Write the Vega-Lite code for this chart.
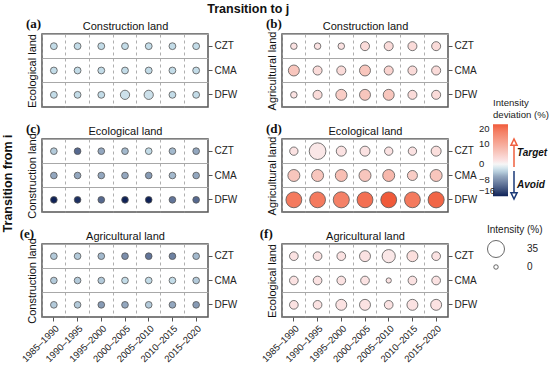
{
  "$schema": "https://vega.github.io/schema/vega-lite/v6.json",
  "padding": {"left": 2, "right": 0, "top": 2, "bottom": 2},
  "background": "white",
  "config": {
    "font": "Liberation Sans",
    "view": {"stroke": "#555", "strokeWidth": 1.5},
    "axis": {"labelFontSize": 10, "titleFontSize": 11, "titleFontWeight": "normal", "labelColor": "#222", "titleColor": "#111", "tickColor": "#555", "tickSize": 4},
    "legend": {"titleFontSize": 10, "titleFontWeight": "normal", "titleColor": "#222", "labelFontSize": 10, "labelColor": "#222", "titleLimit": 90}
  },
  "data": {"values": [
    {"p":"a","t":"1985–1990","r":"CZT","s":3.5,"d":-3},{"p":"a","t":"1990–1995","r":"CZT","s":3.5,"d":-3},{"p":"a","t":"1995–2000","r":"CZT","s":3.5,"d":-3},{"p":"a","t":"2000–2005","r":"CZT","s":3.5,"d":-3},{"p":"a","t":"2005–2010","r":"CZT","s":3.5,"d":-3},{"p":"a","t":"2010–2015","r":"CZT","s":3.5,"d":-3},{"p":"a","t":"2015–2020","r":"CZT","s":3.5,"d":-3},
    {"p":"a","t":"1985–1990","r":"CMA","s":3.5,"d":-3},{"p":"a","t":"1990–1995","r":"CMA","s":3.5,"d":-3},{"p":"a","t":"1995–2000","r":"CMA","s":3.5,"d":-3},{"p":"a","t":"2000–2005","r":"CMA","s":3.5,"d":-3},{"p":"a","t":"2005–2010","r":"CMA","s":3.5,"d":-3},{"p":"a","t":"2010–2015","r":"CMA","s":3.5,"d":-3},{"p":"a","t":"2015–2020","r":"CMA","s":3.5,"d":-3},
    {"p":"a","t":"1985–1990","r":"DFW","s":3.5,"d":-3},{"p":"a","t":"1990–1995","r":"DFW","s":3.5,"d":-3},{"p":"a","t":"1995–2000","r":"DFW","s":3.5,"d":-3},{"p":"a","t":"2000–2005","r":"DFW","s":8.5,"d":-2.5},{"p":"a","t":"2005–2010","r":"DFW","s":8.5,"d":-2.5},{"p":"a","t":"2010–2015","r":"DFW","s":3.5,"d":-3},{"p":"a","t":"2015–2020","r":"DFW","s":3.5,"d":-3},

    {"p":"b","t":"1985–1990","r":"CZT","s":3,"d":2},{"p":"b","t":"1990–1995","r":"CZT","s":3,"d":2},{"p":"b","t":"1995–2000","r":"CZT","s":3,"d":2},{"p":"b","t":"2000–2005","r":"CZT","s":7.9,"d":3},{"p":"b","t":"2005–2010","r":"CZT","s":7.9,"d":3},{"p":"b","t":"2010–2015","r":"CZT","s":7.9,"d":3},{"p":"b","t":"2015–2020","r":"CZT","s":7.9,"d":3},
    {"p":"b","t":"1985–1990","r":"CMA","s":13,"d":6},{"p":"b","t":"1990–1995","r":"CMA","s":8,"d":3},{"p":"b","t":"1995–2000","r":"CMA","s":8,"d":3},{"p":"b","t":"2000–2005","r":"CMA","s":13,"d":6},{"p":"b","t":"2005–2010","r":"CMA","s":8,"d":4},{"p":"b","t":"2010–2015","r":"CMA","s":8,"d":3},{"p":"b","t":"2015–2020","r":"CMA","s":8,"d":3},
    {"p":"b","t":"1985–1990","r":"DFW","s":3,"d":2},{"p":"b","t":"1990–1995","r":"DFW","s":8,"d":3},{"p":"b","t":"1995–2000","r":"DFW","s":13,"d":5},{"p":"b","t":"2000–2005","r":"DFW","s":13,"d":6},{"p":"b","t":"2005–2010","r":"DFW","s":13,"d":6},{"p":"b","t":"2010–2015","r":"DFW","s":8,"d":3},{"p":"b","t":"2015–2020","r":"DFW","s":8,"d":3},

    {"p":"c","t":"1985–1990","r":"CZT","s":3.2,"d":-4},{"p":"c","t":"1990–1995","r":"CZT","s":3.2,"d":-11},{"p":"c","t":"1995–2000","r":"CZT","s":3.2,"d":-6},{"p":"c","t":"2000–2005","r":"CZT","s":3.2,"d":-5},{"p":"c","t":"2005–2010","r":"CZT","s":3.2,"d":-3},{"p":"c","t":"2010–2015","r":"CZT","s":3.2,"d":-5},{"p":"c","t":"2015–2020","r":"CZT","s":3.2,"d":-6},
    {"p":"c","t":"1985–1990","r":"CMA","s":3.2,"d":-6},{"p":"c","t":"1990–1995","r":"CMA","s":3.2,"d":-6},{"p":"c","t":"1995–2000","r":"CMA","s":3.2,"d":-6},{"p":"c","t":"2000–2005","r":"CMA","s":3.2,"d":-6},{"p":"c","t":"2005–2010","r":"CMA","s":3.2,"d":-7},{"p":"c","t":"2010–2015","r":"CMA","s":3.2,"d":-5},{"p":"c","t":"2015–2020","r":"CMA","s":3.2,"d":-6},
    {"p":"c","t":"1985–1990","r":"DFW","s":3.2,"d":-16},{"p":"c","t":"1990–1995","r":"DFW","s":3.2,"d":-15},{"p":"c","t":"1995–2000","r":"DFW","s":3.2,"d":-11},{"p":"c","t":"2000–2005","r":"DFW","s":3.2,"d":-16},{"p":"c","t":"2005–2010","r":"DFW","s":3.2,"d":-16},{"p":"c","t":"2010–2015","r":"DFW","s":3.2,"d":-10},{"p":"c","t":"2015–2020","r":"DFW","s":3.2,"d":-11},

    {"p":"d","t":"1985–1990","r":"CZT","s":6.4,"d":2},{"p":"d","t":"1990–1995","r":"CZT","s":33.5,"d":1.5},{"p":"d","t":"1995–2000","r":"CZT","s":10.4,"d":2},{"p":"d","t":"2000–2005","r":"CZT","s":10.4,"d":2},{"p":"d","t":"2005–2010","r":"CZT","s":6.4,"d":2},{"p":"d","t":"2010–2015","r":"CZT","s":6.4,"d":2},{"p":"d","t":"2015–2020","r":"CZT","s":10.4,"d":2.5},
    {"p":"d","t":"1985–1990","r":"CMA","s":16,"d":6},{"p":"d","t":"1990–1995","r":"CMA","s":16,"d":6},{"p":"d","t":"1995–2000","r":"CMA","s":16,"d":7},{"p":"d","t":"2000–2005","r":"CMA","s":16,"d":6},{"p":"d","t":"2005–2010","r":"CMA","s":16,"d":8},{"p":"d","t":"2010–2015","r":"CMA","s":10.4,"d":5},{"p":"d","t":"2015–2020","r":"CMA","s":16,"d":6},
    {"p":"d","t":"1985–1990","r":"DFW","s":30,"d":17},{"p":"d","t":"1990–1995","r":"DFW","s":30,"d":17},{"p":"d","t":"1995–2000","r":"DFW","s":31,"d":16},{"p":"d","t":"2000–2005","r":"DFW","s":30,"d":18},{"p":"d","t":"2005–2010","r":"DFW","s":30,"d":20},{"p":"d","t":"2010–2015","r":"DFW","s":30,"d":17},{"p":"d","t":"2015–2020","r":"DFW","s":31,"d":19},

    {"p":"e","t":"1985–1990","r":"CZT","s":3.2,"d":-4},{"p":"e","t":"1990–1995","r":"CZT","s":3.2,"d":-4},{"p":"e","t":"1995–2000","r":"CZT","s":3.2,"d":-5},{"p":"e","t":"2000–2005","r":"CZT","s":3.2,"d":-8},{"p":"e","t":"2005–2010","r":"CZT","s":3.2,"d":-10},{"p":"e","t":"2010–2015","r":"CZT","s":3.2,"d":-9},{"p":"e","t":"2015–2020","r":"CZT","s":3.2,"d":-5},
    {"p":"e","t":"1985–1990","r":"CMA","s":3.2,"d":-4},{"p":"e","t":"1990–1995","r":"CMA","s":3.2,"d":-4},{"p":"e","t":"1995–2000","r":"CMA","s":3.2,"d":-4},{"p":"e","t":"2000–2005","r":"CMA","s":3.2,"d":-3},{"p":"e","t":"2005–2010","r":"CMA","s":3.2,"d":-3},{"p":"e","t":"2010–2015","r":"CMA","s":3.2,"d":-3},{"p":"e","t":"2015–2020","r":"CMA","s":3.2,"d":-4},
    {"p":"e","t":"1985–1990","r":"DFW","s":3.2,"d":-4},{"p":"e","t":"1990–1995","r":"DFW","s":3.2,"d":-4},{"p":"e","t":"1995–2000","r":"DFW","s":3.2,"d":-7},{"p":"e","t":"2000–2005","r":"DFW","s":3.2,"d":-6},{"p":"e","t":"2005–2010","r":"DFW","s":3.2,"d":-4},{"p":"e","t":"2010–2015","r":"DFW","s":3.2,"d":-6},{"p":"e","t":"2015–2020","r":"DFW","s":3.2,"d":-7},

    {"p":"f","t":"1985–1990","r":"CZT","s":7.2,"d":2},{"p":"f","t":"1990–1995","r":"CZT","s":7.2,"d":2},{"p":"f","t":"1995–2000","r":"CZT","s":7.2,"d":2},{"p":"f","t":"2000–2005","r":"CZT","s":13,"d":2},{"p":"f","t":"2005–2010","r":"CZT","s":20,"d":1.5},{"p":"f","t":"2010–2015","r":"CZT","s":13,"d":2.5},{"p":"f","t":"2015–2020","r":"CZT","s":7.2,"d":2},
    {"p":"f","t":"1985–1990","r":"CMA","s":7.2,"d":2},{"p":"f","t":"1990–1995","r":"CMA","s":7.2,"d":2},{"p":"f","t":"1995–2000","r":"CMA","s":7.2,"d":2},{"p":"f","t":"2000–2005","r":"CMA","s":7.2,"d":2},{"p":"f","t":"2005–2010","r":"CMA","s":1,"d":2},{"p":"f","t":"2010–2015","r":"CMA","s":7.2,"d":2},{"p":"f","t":"2015–2020","r":"CMA","s":7.2,"d":2},
    {"p":"f","t":"1985–1990","r":"DFW","s":7.2,"d":2},{"p":"f","t":"1990–1995","r":"DFW","s":7.2,"d":2},{"p":"f","t":"1995–2000","r":"DFW","s":13,"d":2},{"p":"f","t":"2000–2005","r":"DFW","s":13,"d":2},{"p":"f","t":"2005–2010","r":"DFW","s":7.2,"d":2},{"p":"f","t":"2010–2015","r":"DFW","s":13,"d":2},{"p":"f","t":"2015–2020","r":"DFW","s":13,"d":2}
  ]},
  "title": {"text": "Transition from i", "orient": "left", "anchor": "middle", "fontSize": 12.5, "fontWeight": "bold", "color": "#111", "offset": 4},
  "vconcat": [
    {
      "title": {"text": "Transition to j", "anchor": "middle", "fontSize": 12.5, "fontWeight": "bold", "color": "#111", "offset": 2},
      "columns": 2,
      "bounds": "flush",
      "spacing": {"row": 32, "column": 74},
      "concat": [
        {"width":166,"height":73,
         "title":{"text":"(a)","anchor":"start","font":"Liberation Serif","fontSize":13,"fontWeight":"bold","offset":-11,"color":"#111"},
         "layer":[
          {"transform":[{"filter":"datum.p==='a'"}],
           "mark":{"type":"point","opacity":0},
           "encoding":{
            "x":{"field":"t","type":"ordinal","sort":["1985–1990","1990–1995","1995–2000","2000–2005","2005–2010","2010–2015","2015–2020"],"scale":{"type":"band","paddingInner":0,"paddingOuter":0},"axis":{"orient":"top","title":"Construction land","titlePadding":3,"labels":false,"ticks":false,"domain":false,"grid":true,"gridDash":[3,3],"gridColor":"#9a9a9a","gridWidth":0.8,"bandPosition":0}},
            "y":{"field":"r","type":"ordinal","sort":["CZT","CMA","DFW"],"scale":{"type":"band","paddingInner":0,"paddingOuter":0},"axis":{"orient":"left","title":"Ecological land","titlePadding":5,"labels":false,"ticks":false,"domain":false,"grid":true,"gridColor":"#a8a8a8","gridWidth":1,"bandPosition":0}}}},
          {"transform":[{"filter":"datum.p==='a'"}],
           "mark":{"type":"circle","stroke":"#555","strokeWidth":0.8,"opacity":1},
           "encoding":{
            "x":{"field":"t","type":"ordinal","sort":["1985–1990","1990–1995","1995–2000","2000–2005","2005–2010","2010–2015","2015–2020"],"scale":{"type":"band","paddingInner":0,"paddingOuter":0},"axis":null},
            "y":{"field":"r","type":"ordinal","sort":["CZT","CMA","DFW"],"scale":{"type":"band","paddingInner":0,"paddingOuter":0},"axis":{"orient":"right","title":null,"domain":false,"grid":false,"labelPadding":2}},
            "color":{"field":"d","type":"quantitative","scale":{"domain":[-16,-11,-6,-3,0,2,6,17,20],"range":["#0f2257","#56698f","#93a7bf","#c3dce8","#f6f6f6","#fbe2e2","#f8c6bd","#f47a5e","#f05a3a"],"interpolate":"rgb"},"legend":{"orient":"none","legendX":451,"legendY":64,"title":["Intensity","deviation (%)"],"titleFontSize":9.6,"gradientLength":72,"gradientThickness":15,"values":[20,10,0,-8,-16],"labelOffset":-29,"labelFontSize":9.5,"labelOverlap":false,"direction":"vertical"}},
            "size":{"field":"s","type":"quantitative","scale":{"type":"linear","domain":[0,35],"range":[20,290]},"legend":{"orient":"none","legendX":445,"legendY":191,"title":"Intensity (%)","values":[35,0],"labelOffset":22,"symbolFillColor":"white","symbolStrokeColor":"#444","symbolStrokeWidth":0.8}}}},
          {"data":{"values":[{"dir":"Target"},{"dir":"Avoid"}]},
           "mark":{"type":"point","opacity":0,"filled":true,"strokeWidth":1.5},
           "encoding":{
            "shape":{"field":"dir","type":"nominal","scale":{"domain":["Target","Avoid"],"range":["M0,1L0,-0.6M-0.22,-0.55L0,-1L0.22,-0.55Z","M0,-1L0,0.6M-0.22,0.55L0,1L0.22,0.55Z"]},
             "legend":{"orient":"none","legendX":457,"legendY":104,"title":null,"symbolSize":784,"symbolStrokeWidth":1.5,"labelFontStyle":"italic","labelFontWeight":"bold","labelFontSize":10,"labelColor":"#111","labelOffset":-12,"rowPadding":-3}},
            "stroke":{"field":"dir","type":"nominal","scale":{"domain":["Target","Avoid"],"range":["#f0603f","#1b3a78"]}},
            "fill":{"field":"dir","type":"nominal","scale":{"domain":["Target","Avoid"],"range":["#f0603f","#1b3a78"]}}}}
         ],
         "resolve":{"axis":{"x":"independent","y":"independent"}}},

        {"width":166,"height":73,
         "title":{"text":"(b)","anchor":"start","font":"Liberation Serif","fontSize":13,"fontWeight":"bold","offset":-11,"color":"#111"},
         "transform":[{"filter":"datum.p==='b'"}],
         "layer":[
          {"mark":{"type":"point","opacity":0},
           "encoding":{
            "x":{"field":"t","type":"ordinal","sort":["1985–1990","1990–1995","1995–2000","2000–2005","2005–2010","2010–2015","2015–2020"],"scale":{"type":"band","paddingInner":0,"paddingOuter":0},"axis":{"orient":"top","title":"Construction land","titlePadding":3,"labels":false,"ticks":false,"domain":false,"grid":true,"gridDash":[3,3],"gridColor":"#9a9a9a","gridWidth":0.8,"bandPosition":0}},
            "y":{"field":"r","type":"ordinal","sort":["CZT","CMA","DFW"],"scale":{"type":"band","paddingInner":0,"paddingOuter":0},"axis":{"orient":"left","title":"Agricultural land","titlePadding":5,"labels":false,"ticks":false,"domain":false,"grid":true,"gridColor":"#a8a8a8","gridWidth":1,"bandPosition":0}}}},
          {"mark":{"type":"circle","stroke":"#555","strokeWidth":0.8,"opacity":1},
           "encoding":{
            "x":{"field":"t","type":"ordinal","sort":["1985–1990","1990–1995","1995–2000","2000–2005","2005–2010","2010–2015","2015–2020"],"scale":{"type":"band","paddingInner":0,"paddingOuter":0},"axis":null},
            "y":{"field":"r","type":"ordinal","sort":["CZT","CMA","DFW"],"scale":{"type":"band","paddingInner":0,"paddingOuter":0},"axis":{"orient":"right","title":null,"domain":false,"grid":false,"labelPadding":2}},
            "color":{"field":"d","type":"quantitative","scale":{"domain":[-16,-11,-6,-3,0,2,6,17,20],"range":["#0f2257","#56698f","#93a7bf","#c3dce8","#f6f6f6","#fbe2e2","#f8c6bd","#f47a5e","#f05a3a"],"interpolate":"rgb"},"legend":{"orient":"none","legendX":451,"legendY":64,"title":["Intensity","deviation (%)"],"titleFontSize":9.6,"gradientLength":72,"gradientThickness":15,"values":[20,10,0,-8,-16],"labelOffset":-29,"labelFontSize":9.5,"labelOverlap":false,"direction":"vertical"}},
            "size":{"field":"s","type":"quantitative","scale":{"type":"linear","domain":[0,35],"range":[20,290]},"legend":{"orient":"none","legendX":445,"legendY":191,"title":"Intensity (%)","values":[35,0],"labelOffset":22,"symbolFillColor":"white","symbolStrokeColor":"#444","symbolStrokeWidth":0.8}}}}
         ],
         "resolve":{"axis":{"x":"independent","y":"independent"}}},

        {"width":166,"height":73,
         "title":{"text":"(c)","anchor":"start","font":"Liberation Serif","fontSize":13,"fontWeight":"bold","offset":-11,"color":"#111"},
         "transform":[{"filter":"datum.p==='c'"}],
         "layer":[
          {"mark":{"type":"point","opacity":0},
           "encoding":{
            "x":{"field":"t","type":"ordinal","sort":["1985–1990","1990–1995","1995–2000","2000–2005","2005–2010","2010–2015","2015–2020"],"scale":{"type":"band","paddingInner":0,"paddingOuter":0},"axis":{"orient":"top","title":"Ecological land","titlePadding":3,"labels":false,"ticks":false,"domain":false,"grid":true,"gridDash":[3,3],"gridColor":"#9a9a9a","gridWidth":0.8,"bandPosition":0}},
            "y":{"field":"r","type":"ordinal","sort":["CZT","CMA","DFW"],"scale":{"type":"band","paddingInner":0,"paddingOuter":0},"axis":{"orient":"left","title":"Construction land","titlePadding":5,"labels":false,"ticks":false,"domain":false,"grid":true,"gridColor":"#a8a8a8","gridWidth":1,"bandPosition":0}}}},
          {"mark":{"type":"circle","stroke":"#555","strokeWidth":0.8,"opacity":1},
           "encoding":{
            "x":{"field":"t","type":"ordinal","sort":["1985–1990","1990–1995","1995–2000","2000–2005","2005–2010","2010–2015","2015–2020"],"scale":{"type":"band","paddingInner":0,"paddingOuter":0},"axis":null},
            "y":{"field":"r","type":"ordinal","sort":["CZT","CMA","DFW"],"scale":{"type":"band","paddingInner":0,"paddingOuter":0},"axis":{"orient":"right","title":null,"domain":false,"grid":false,"labelPadding":2}},
            "color":{"field":"d","type":"quantitative","scale":{"domain":[-16,-11,-6,-3,0,2,6,17,20],"range":["#0f2257","#56698f","#93a7bf","#c3dce8","#f6f6f6","#fbe2e2","#f8c6bd","#f47a5e","#f05a3a"],"interpolate":"rgb"},"legend":{"orient":"none","legendX":451,"legendY":64,"title":["Intensity","deviation (%)"],"titleFontSize":9.6,"gradientLength":72,"gradientThickness":15,"values":[20,10,0,-8,-16],"labelOffset":-29,"labelFontSize":9.5,"labelOverlap":false,"direction":"vertical"}},
            "size":{"field":"s","type":"quantitative","scale":{"type":"linear","domain":[0,35],"range":[20,290]},"legend":{"orient":"none","legendX":445,"legendY":191,"title":"Intensity (%)","values":[35,0],"labelOffset":22,"symbolFillColor":"white","symbolStrokeColor":"#444","symbolStrokeWidth":0.8}}}}
         ],
         "resolve":{"axis":{"x":"independent","y":"independent"}}},

        {"width":166,"height":73,
         "title":{"text":"(d)","anchor":"start","font":"Liberation Serif","fontSize":13,"fontWeight":"bold","offset":-11,"color":"#111"},
         "transform":[{"filter":"datum.p==='d'"}],
         "layer":[
          {"mark":{"type":"point","opacity":0},
           "encoding":{
            "x":{"field":"t","type":"ordinal","sort":["1985–1990","1990–1995","1995–2000","2000–2005","2005–2010","2010–2015","2015–2020"],"scale":{"type":"band","paddingInner":0,"paddingOuter":0},"axis":{"orient":"top","title":"Ecological land","titlePadding":3,"labels":false,"ticks":false,"domain":false,"grid":true,"gridDash":[3,3],"gridColor":"#9a9a9a","gridWidth":0.8,"bandPosition":0}},
            "y":{"field":"r","type":"ordinal","sort":["CZT","CMA","DFW"],"scale":{"type":"band","paddingInner":0,"paddingOuter":0},"axis":{"orient":"left","title":"Agricultural land","titlePadding":5,"labels":false,"ticks":false,"domain":false,"grid":true,"gridColor":"#a8a8a8","gridWidth":1,"bandPosition":0}}}},
          {"mark":{"type":"circle","stroke":"#555","strokeWidth":0.8,"opacity":1},
           "encoding":{
            "x":{"field":"t","type":"ordinal","sort":["1985–1990","1990–1995","1995–2000","2000–2005","2005–2010","2010–2015","2015–2020"],"scale":{"type":"band","paddingInner":0,"paddingOuter":0},"axis":null},
            "y":{"field":"r","type":"ordinal","sort":["CZT","CMA","DFW"],"scale":{"type":"band","paddingInner":0,"paddingOuter":0},"axis":{"orient":"right","title":null,"domain":false,"grid":false,"labelPadding":2}},
            "color":{"field":"d","type":"quantitative","scale":{"domain":[-16,-11,-6,-3,0,2,6,17,20],"range":["#0f2257","#56698f","#93a7bf","#c3dce8","#f6f6f6","#fbe2e2","#f8c6bd","#f47a5e","#f05a3a"],"interpolate":"rgb"},"legend":{"orient":"none","legendX":451,"legendY":64,"title":["Intensity","deviation (%)"],"titleFontSize":9.6,"gradientLength":72,"gradientThickness":15,"values":[20,10,0,-8,-16],"labelOffset":-29,"labelFontSize":9.5,"labelOverlap":false,"direction":"vertical"}},
            "size":{"field":"s","type":"quantitative","scale":{"type":"linear","domain":[0,35],"range":[20,290]},"legend":{"orient":"none","legendX":445,"legendY":191,"title":"Intensity (%)","values":[35,0],"labelOffset":22,"symbolFillColor":"white","symbolStrokeColor":"#444","symbolStrokeWidth":0.8}}}}
         ],
         "resolve":{"axis":{"x":"independent","y":"independent"}}},

        {"width":166,"height":73,
         "title":{"text":"(e)","anchor":"start","font":"Liberation Serif","fontSize":13,"fontWeight":"bold","offset":-11,"color":"#111"},
         "transform":[{"filter":"datum.p==='e'"}],
         "layer":[
          {"mark":{"type":"point","opacity":0},
           "encoding":{
            "x":{"field":"t","type":"ordinal","sort":["1985–1990","1990–1995","1995–2000","2000–2005","2005–2010","2010–2015","2015–2020"],"scale":{"type":"band","paddingInner":0,"paddingOuter":0},"axis":{"orient":"top","title":"Agricultural land","titlePadding":3,"labels":false,"ticks":false,"domain":false,"grid":true,"gridDash":[3,3],"gridColor":"#9a9a9a","gridWidth":0.8,"bandPosition":0}},
            "y":{"field":"r","type":"ordinal","sort":["CZT","CMA","DFW"],"scale":{"type":"band","paddingInner":0,"paddingOuter":0},"axis":{"orient":"left","title":"Construction land","titlePadding":5,"labels":false,"ticks":false,"domain":false,"grid":true,"gridColor":"#a8a8a8","gridWidth":1,"bandPosition":0}}}},
          {"mark":{"type":"circle","stroke":"#555","strokeWidth":0.8,"opacity":1},
           "encoding":{
            "x":{"field":"t","type":"ordinal","sort":["1985–1990","1990–1995","1995–2000","2000–2005","2005–2010","2010–2015","2015–2020"],"scale":{"type":"band","paddingInner":0,"paddingOuter":0},"axis":{"orient":"bottom","title":null,"domain":false,"grid":false,"labelAngle":-45,"labelFontSize":9.5,"labelPadding":2}},
            "y":{"field":"r","type":"ordinal","sort":["CZT","CMA","DFW"],"scale":{"type":"band","paddingInner":0,"paddingOuter":0},"axis":{"orient":"right","title":null,"domain":false,"grid":false,"labelPadding":2}},
            "color":{"field":"d","type":"quantitative","scale":{"domain":[-16,-11,-6,-3,0,2,6,17,20],"range":["#0f2257","#56698f","#93a7bf","#c3dce8","#f6f6f6","#fbe2e2","#f8c6bd","#f47a5e","#f05a3a"],"interpolate":"rgb"},"legend":{"orient":"none","legendX":451,"legendY":64,"title":["Intensity","deviation (%)"],"titleFontSize":9.6,"gradientLength":72,"gradientThickness":15,"values":[20,10,0,-8,-16],"labelOffset":-29,"labelFontSize":9.5,"labelOverlap":false,"direction":"vertical"}},
            "size":{"field":"s","type":"quantitative","scale":{"type":"linear","domain":[0,35],"range":[20,290]},"legend":{"orient":"none","legendX":445,"legendY":191,"title":"Intensity (%)","values":[35,0],"labelOffset":22,"symbolFillColor":"white","symbolStrokeColor":"#444","symbolStrokeWidth":0.8}}}}
         ],
         "resolve":{"axis":{"x":"independent","y":"independent"}}},

        {"width":166,"height":73,
         "title":{"text":"(f)","anchor":"start","font":"Liberation Serif","fontSize":13,"fontWeight":"bold","offset":-11,"color":"#111"},
         "transform":[{"filter":"datum.p==='f'"}],
         "layer":[
          {"mark":{"type":"point","opacity":0},
           "encoding":{
            "x":{"field":"t","type":"ordinal","sort":["1985–1990","1990–1995","1995–2000","2000–2005","2005–2010","2010–2015","2015–2020"],"scale":{"type":"band","paddingInner":0,"paddingOuter":0},"axis":{"orient":"top","title":"Agricultural land","titlePadding":3,"labels":false,"ticks":false,"domain":false,"grid":true,"gridDash":[3,3],"gridColor":"#9a9a9a","gridWidth":0.8,"bandPosition":0}},
            "y":{"field":"r","type":"ordinal","sort":["CZT","CMA","DFW"],"scale":{"type":"band","paddingInner":0,"paddingOuter":0},"axis":{"orient":"left","title":"Ecological land","titlePadding":5,"labels":false,"ticks":false,"domain":false,"grid":true,"gridColor":"#a8a8a8","gridWidth":1,"bandPosition":0}}}},
          {"mark":{"type":"circle","stroke":"#555","strokeWidth":0.8,"opacity":1},
           "encoding":{
            "x":{"field":"t","type":"ordinal","sort":["1985–1990","1990–1995","1995–2000","2000–2005","2005–2010","2010–2015","2015–2020"],"scale":{"type":"band","paddingInner":0,"paddingOuter":0},"axis":{"orient":"bottom","title":null,"domain":false,"grid":false,"labelAngle":-45,"labelFontSize":9.5,"labelPadding":2}},
            "y":{"field":"r","type":"ordinal","sort":["CZT","CMA","DFW"],"scale":{"type":"band","paddingInner":0,"paddingOuter":0},"axis":{"orient":"right","title":null,"domain":false,"grid":false,"labelPadding":2}},
            "color":{"field":"d","type":"quantitative","scale":{"domain":[-16,-11,-6,-3,0,2,6,17,20],"range":["#0f2257","#56698f","#93a7bf","#c3dce8","#f6f6f6","#fbe2e2","#f8c6bd","#f47a5e","#f05a3a"],"interpolate":"rgb"},"legend":{"orient":"none","legendX":451,"legendY":64,"title":["Intensity","deviation (%)"],"titleFontSize":9.6,"gradientLength":72,"gradientThickness":15,"values":[20,10,0,-8,-16],"labelOffset":-29,"labelFontSize":9.5,"labelOverlap":false,"direction":"vertical"}},
            "size":{"field":"s","type":"quantitative","scale":{"type":"linear","domain":[0,35],"range":[20,290]},"legend":{"orient":"none","legendX":445,"legendY":191,"title":"Intensity (%)","values":[35,0],"labelOffset":22,"symbolFillColor":"white","symbolStrokeColor":"#444","symbolStrokeWidth":0.8}}}}
         ],
         "resolve":{"axis":{"x":"independent","y":"independent"}}}
      ]
    }
  ]
}
